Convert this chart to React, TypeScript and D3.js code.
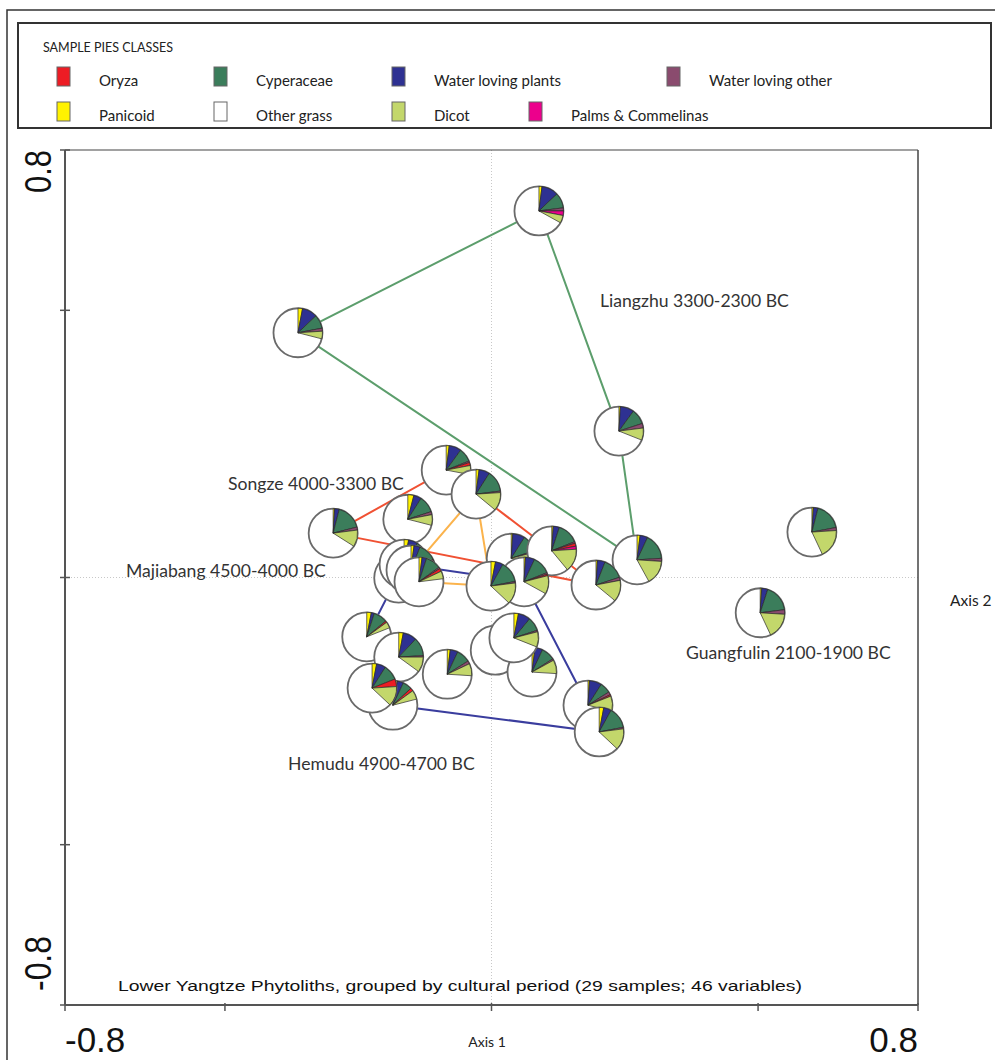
import React from "react";
import * as d3 from "d3";

// ---------- legend classes ----------
const legendClasses = [
  "Oryza", "Cyperaceae", "Water loving plants", "Water loving other",
  "Panicoid", "Other grass", "Dicot", "Palms & Commelinas",
];
const legendColors = [
  "#ed1c24", "#3b7d5b", "#2e3192", "#8a4b6e",
  "#fff200", "#ffffff", "#c3d76b", "#ec008c",
];
// order of slices in each pie (clockwise from 12 o'clock)
const pieOrder = [
  "Panicoid", "Water loving plants", "Cyperaceae", "Water loving other",
  "Oryza", "Palms & Commelinas", "Dicot", "Other grass",
];

// ---------- samples (drawing order) ----------
const sampleIds = ["L1","L2","L3","L4","G1","G2","A","C","D","B","F","E","J","Gx","Gh","Gm1","Gm2","I","H","P1","P2","P3","P6","P8","P7","P5","P4","P9","P10"];
const sampleGroup = ["Liangzhu","Liangzhu","Liangzhu","Liangzhu","Guangfulin","Guangfulin","Songze","Songze","Songze","Majiabang","Songze","Songze","Songze","Hemudu","Hemudu","Majiabang","Majiabang","Hemudu","Majiabang","Hemudu","Hemudu","Hemudu","Hemudu","Hemudu","Hemudu","Hemudu","Hemudu","Hemudu","Hemudu"];
const axis1 = [0.089,-0.363,0.239,0.273,0.601,0.504,-0.085,-0.297,-0.157,-0.029,0.037,0.113,0.196,-0.174,-0.164,-0.151,-0.136,0.061,-0.001,-0.234,-0.174,-0.083,0.007,0.076,0.042,-0.185,-0.224,0.181,0.202];
const axis2 = [0.686,0.458,0.274,0.033,0.085,-0.066,0.201,0.083,0.109,0.156,0.036,0.050,-0.014,-0.001,0.025,0.014,-0.008,-0.008,-0.016,-0.111,-0.149,-0.181,-0.136,-0.177,-0.113,-0.239,-0.207,-0.239,-0.289];

// composition (%) per sample, same order as sampleIds
const panicoid   = [2,3,1,2,1,1,2,1,4,2,1,1,1,1,3,2,2,1,3,3,3,2,2,2,3,3,3,1,3];
const waterPlants= [11,10,9,5,3,4,8,3,5,7,8,4,5,5,6,4,3,6,5,2,9,5,6,5,8,4,6,8,5];
const cyperaceae = [10,9,10,17,18,18,9,17,11,14,11,14,14,10,16,12,10,12,14,9,12,9,10,9,9,6,10,7,14];
const waterOther = [2,2,3,2,2,3,1,2,2,1,1,1,2,0,1,1,1,1,1,0,1,2,1,1,1,0,0,2,1];
const oryza      = [0,0,0,0,0,0,2,0,0,0,0,2,0,0,0,3,2,1,0,1,0,0,0,0,0,2,5,1,0];
const palms      = [3,0,0,0,0,0,0,0,0,0,0,2,0,0,0,0,0,0,0,0,0,0,0,0,0,0,0,0,0];
const dicot      = [5,5,8,16,19,17,6,11,7,12,8,15,14,6,5,5,5,12,14,4,10,8,9,9,10,6,13,10,14];
const otherGrass = [67,71,69,58,57,57,72,66,71,64,71,61,64,78,69,73,77,67,63,81,65,74,72,74,69,79,63,71,63];

// ---------- groups / hulls ----------
const groupNames = ["Liangzhu", "Songze", "Majiabang", "Hemudu"];
const groupLineColors = ["#5c9e6c", "#f05133", "#fbb34c", "#3a3d9e"];
const hullLiangzhu = ["L1", "L3", "L4", "L2"];
const hullSongze = ["A", "E", "J", "C"];
const hullMajiabang = ["B", "Gm1", "Gm2", "H"];
const hullHemudu = ["Gh", "I", "P9", "P10", "P5", "P1"];
const groupHulls = [hullLiangzhu, hullSongze, hullMajiabang, hullHemudu];

const periodLabels = [
  "Liangzhu 3300-2300 BC", "Songze 4000-3300 BC", "Majiabang 4500-4000 BC",
  "Guangfulin 2100-1900 BC", "Hemudu 4900-4700 BC",
];

const xTicks = [-0.8, -0.5, 0, 0.5, 0.8];
const yTicks = [-0.8, -0.5, 0, 0.5, 0.8];
const chartTitle = "Lower Yangtze Phytoliths, grouped by cultural period (29 samples; 46 variables)";

const series: Record<string, number[]> = {
  "Panicoid": panicoid,
  "Water loving plants": waterPlants,
  "Cyperaceae": cyperaceae,
  "Water loving other": waterOther,
  "Oryza": oryza,
  "Palms & Commelinas": palms,
  "Dicot": dicot,
  "Other grass": otherGrass,
};

export default function App() {
  const W = 995, H = 1060;
  const left = 65, right = 918, top = 150, bottom = 1005;
  const x = d3.scaleLinear().domain([-0.8, 0.8]).range([left, right]);
  const y = d3.scaleLinear().domain([-0.8, 0.8]).range([bottom, top]);
  const R = 24.5;
  const colorOf = (c: string) => legendColors[legendClasses.indexOf(c)];
  const pie = d3.pie<number>().sort(null).value((d) => d);
  const arc = d3.arc<d3.PieArcDatum<number>>().innerRadius(0).outerRadius(R);
  const line = d3.line<[number, number]>().curve(d3.curveLinearClosed);

  const idx = (id: string) => sampleIds.indexOf(id);

  const legendPos = [
    [57, 67], [214, 67], [392, 67], [667, 67],
    [57, 102], [214, 102], [392, 102], [529, 102],
  ];
  const labelFont = "Lato, 'Open Sans', sans-serif";
  const numFont = "'Liberation Sans', Arial, sans-serif";

  return (
    <svg width={W} height={H} style={{ position: "absolute", left: 0, top: 0, background: "#fff" }}>
      <rect x={0} y={0} width={W} height={H} fill="#fff" />
      {/* outer frame */}
      <rect x={7} y={10} width={1000} height={1070} fill="none" stroke="#333" strokeWidth={1.5} />
      {/* legend box */}
      <rect x={18} y={23} width={973} height={105} fill="#fff" stroke="#333" strokeWidth={2} />
      <text x={43} y={52} fontFamily={labelFont} fontSize={12.5} fill="#222">SAMPLE PIES CLASSES</text>
      {legendClasses.map((c, i) => (
        <g key={c}>
          <rect x={legendPos[i][0]} y={legendPos[i][1]} width={13} height={19}
            fill={legendColors[i]} stroke="#666" strokeWidth={1} />
          <text x={legendPos[i][0] + 42} y={legendPos[i][1] + 19} fontFamily={labelFont}
            fontSize={15} fill="#222">{c}</text>
        </g>
      ))}

      {/* grid lines at zero */}
      <line x1={x(0)} x2={x(0)} y1={top} y2={bottom} stroke="#c8c8c8" strokeWidth={1} strokeDasharray="1,2" />
      <line x1={left} x2={right} y1={y(0)} y2={y(0)} stroke="#c8c8c8" strokeWidth={1} strokeDasharray="1,2" />

      {/* plot frame */}
      <line x1={left} x2={right} y1={top} y2={top} stroke="#444" strokeWidth={1.2} />
      <line x1={right} x2={right} y1={top} y2={bottom} stroke="#444" strokeWidth={1.5} />
      <line x1={left} x2={left} y1={top} y2={bottom} stroke="#555" strokeWidth={2} />
      <line x1={left} x2={right} y1={bottom} y2={bottom} stroke="#555" strokeWidth={2} />
      {yTicks.map((t) => (
        <line key={"yt" + t} x1={left - 5} x2={left + 5} y1={y(t)} y2={y(t)} stroke="#555" strokeWidth={1.5} />
      ))}
      {xTicks.map((t) => (
        <line key={"xt" + t} x1={x(t)} x2={x(t)} y1={bottom - 2} y2={bottom + 6} stroke="#555" strokeWidth={1.5} />
      ))}

      {/* tick labels */}
      <text x={x(-0.8)} y={1052} fontFamily={numFont} fontSize={35} fill="#111">-0.8</text>
      <text x={x(0.8)} y={1052} textAnchor="end" fontFamily={numFont} fontSize={35} fill="#111">0.8</text>
      <text transform={`translate(51,${y(0.8)}) rotate(-90)`} textAnchor="end" fontFamily={numFont}
        fontSize={36} fill="#111" textLength={43} lengthAdjust="spacingAndGlyphs">0.8</text>
      <text transform={`translate(51,${y(-0.8) - 14}) rotate(-90)`} textAnchor="start" fontFamily={numFont}
        fontSize={36} fill="#111" textLength={55} lengthAdjust="spacingAndGlyphs">-0.8</text>
      <text x={487} y={1047} textAnchor="middle" fontFamily={labelFont} fontSize={14} fill="#222">Axis 1</text>
      <text x={950} y={606} fontFamily={labelFont} fontSize={15.5} fill="#222">Axis 2</text>

      <text x={118} y={991} fontFamily={numFont} fontSize={15.5} fill="#111"
        textLength={684} lengthAdjust="spacingAndGlyphs">{chartTitle}</text>

      {/* hull lines */}
      {groupHulls.map((h, gi) => (
        <path key={groupNames[gi]}
          d={line(h.map((id) => [x(axis1[idx(id)]), y(axis2[idx(id)])] as [number, number])) || ""}
          fill="none" stroke={groupLineColors[gi]} strokeWidth={2} />
      ))}

      {/* group labels */}
      <text x={600} y={307} fontFamily={labelFont} fontSize={17.6} fill="#333">{periodLabels[0]}</text>
      <text x={228} y={490} fontFamily={labelFont} fontSize={17.6} fill="#333">{periodLabels[1]}</text>
      <text x={126} y={577} fontFamily={labelFont} fontSize={17.6} fill="#333">{periodLabels[2]}</text>
      <text x={686} y={659} fontFamily={labelFont} fontSize={17.6} fill="#333">{periodLabels[3]}</text>
      <text x={288} y={770} fontFamily={labelFont} fontSize={17.6} fill="#333">{periodLabels[4]}</text>

      {/* pies */}
      {sampleIds.map((id, i) => {
        const vals = pieOrder.map((c) => series[c][i]);
        const arcs = pie(vals);
        return (
          <g key={id} transform={`translate(${x(axis1[i])},${y(axis2[i])})`} data-group={sampleGroup[i]}>
            <circle r={R} fill="#fff" stroke="#6a6a6a" strokeWidth={1.8} />
            {arcs.map((a, k) =>
              pieOrder[k] === "Other grass" || a.value === 0 ? null : (
                <path key={k} d={arc(a) || ""} fill={colorOf(pieOrder[k])} stroke="#2a2a2a" strokeWidth={0.7} />
              )
            )}
          </g>
        );
      })}
    </svg>
  );
}
